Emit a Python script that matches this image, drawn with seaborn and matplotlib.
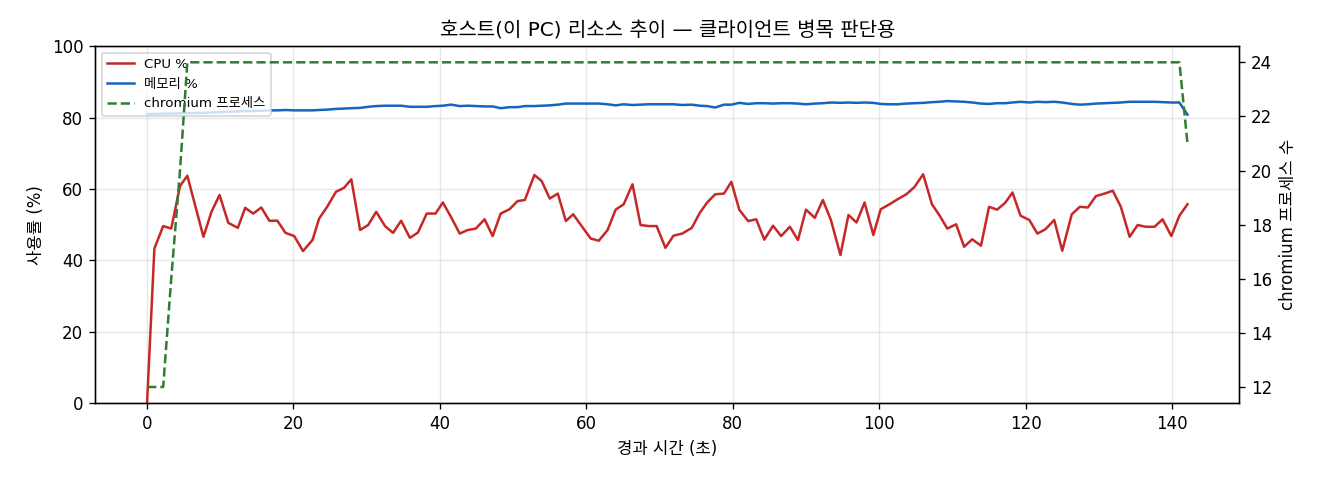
import matplotlib
matplotlib.use("Agg")
import matplotlib.pyplot as plt
import seaborn as sns
import pandas as pd

# elapsed time (s)
elapsed = [0.0, 1.0, 2.2, 3.3, 4.5, 5.5, 7.7, 8.8, 9.9, 11.1, 12.4, 13.4, 14.5, 15.6, 16.7, 17.8,
           18.9, 20.1, 21.3, 22.6, 23.5, 24.6, 25.8, 26.9, 27.9, 29.1, 30.2, 31.3, 32.5, 33.6, 34.7,
           35.9, 37.0, 38.2, 39.4, 40.4, 41.5, 42.7, 43.8, 44.9, 46.1, 47.2, 48.3, 49.5, 50.6, 51.6,
           52.9, 53.9, 55.0, 56.1, 57.2, 58.2, 59.5, 60.6, 61.7, 62.9, 64.0, 65.1, 66.3, 67.4, 68.5,
           69.6, 70.8, 71.9, 73.1, 74.4, 75.5, 76.5, 77.6, 78.8, 79.8, 80.9, 82.1, 83.2, 84.3, 85.5,
           86.6, 87.8, 88.9, 90.0, 91.2, 92.3, 93.4, 94.7, 95.8, 96.9, 98.0, 99.2, 100.2, 101.4,
           102.5, 103.7, 104.8, 106.0, 107.2, 108.2, 109.3, 110.5, 111.6, 112.7, 113.9, 115.0,
           116.1, 117.2, 118.2, 119.3, 120.5, 121.6, 122.7, 123.9, 125.0, 126.3, 127.4, 128.5,
           129.6, 130.8, 131.9, 133.0, 134.2, 135.3, 136.4, 137.6, 138.7, 139.9, 141.0, 142.1]

cpu = [0.0, 43.3, 49.6, 48.9, 60.8, 63.7, 46.6, 53.6, 58.3, 50.5, 49.1, 54.7, 53.1, 54.8, 51.1, 51.1,
       47.7, 46.8, 42.6, 45.7, 51.7, 55.0, 59.2, 60.3, 62.7, 48.5, 49.9, 53.6, 49.6, 47.7, 51.1,
       46.3, 47.8, 53.1, 53.1, 56.2, 52.2, 47.5, 48.5, 48.9, 51.5, 46.8, 53.1, 54.3, 56.6, 56.9,
       63.9, 62.2, 57.3, 58.7, 51.0, 52.9, 49.2, 46.1, 45.5, 48.5, 54.2, 55.7, 61.3, 49.9, 49.6,
       49.6, 43.5, 46.9, 47.5, 49.1, 53.3, 56.2, 58.5, 58.7, 62.0, 54.1, 51.0, 51.5, 45.8, 49.7,
       46.8, 49.4, 45.7, 54.2, 51.9, 56.9, 51.3, 41.5, 52.7, 50.6, 56.2, 47.1, 54.3, 55.7,
       57.1, 58.5, 60.5, 64.1, 55.7, 52.7, 48.9, 50.1, 43.8, 45.9, 44.1, 55.0,
       54.2, 56.1, 59.0, 52.5, 51.3, 47.5, 48.7, 51.3, 42.7, 52.9, 55.0, 54.8,
       58.0, 58.7, 59.5, 55.0, 46.6, 49.9, 49.4, 49.4, 51.5, 46.8, 52.5, 55.7]

memory = [81.0, 81.0, 81.1, 81.1, 81.2, 81.2, 81.3, 81.4, 81.5, 81.6, 81.7, 81.8, 81.8, 81.9, 82.0, 82.0,
          82.1, 82.0, 82.0, 82.0, 82.1, 82.2, 82.4, 82.5, 82.6, 82.7, 83.0, 83.2, 83.3, 83.3, 83.3,
          83.0, 83.0, 83.0, 83.2, 83.3, 83.6, 83.2, 83.3, 83.2, 83.1, 83.1, 82.6, 82.9, 82.9, 83.2,
          83.2, 83.3, 83.4, 83.6, 83.9, 83.9, 83.9, 83.9, 83.9, 83.7, 83.4, 83.7, 83.5, 83.6, 83.7,
          83.7, 83.7, 83.7, 83.5, 83.6, 83.3, 83.2, 82.8, 83.6, 83.6, 84.1, 83.8, 84.0, 84.0, 83.9,
          84.0, 84.0, 83.9, 83.7, 83.9, 84.0, 84.2, 84.1, 84.2, 84.1, 84.2, 84.1, 83.8, 83.7,
          83.7, 83.9, 84.0, 84.1, 84.3, 84.4, 84.6, 84.5, 84.4, 84.2, 83.9, 83.8,
          84.0, 84.0, 84.2, 84.4, 84.2, 84.4, 84.3, 84.4, 84.2, 83.8, 83.6, 83.7,
          83.9, 84.0, 84.1, 84.2, 84.4, 84.4, 84.4, 84.4, 84.3, 84.2, 84.2, 80.8]

chromium = [12, 12, 12, 16, 20] + [24] * 120 + [21]

df = pd.DataFrame({"t": elapsed, "cpu": cpu, "mem": memory, "proc": chromium})

plt.rcParams['font.family'] = ['DejaVu Sans', 'Noto Sans CJK KR']
plt.rcParams['axes.unicode_minus'] = False

fig, ax = plt.subplots(figsize=(11, 4), dpi=120)
fig.subplots_adjust(left=0.072, right=0.939, top=0.904, bottom=0.160)

sns.lineplot(data=df, x="t", y="cpu", ax=ax, color="#c62828", linewidth=1.5, label="CPU %")
sns.lineplot(data=df, x="t", y="mem", ax=ax, color="#1565c0", linewidth=1.5, label="메모리 %")
ax.set_ylim(0, 100)
ax.set_xlabel("경과 시간 (초)", fontsize=10)
ax.set_ylabel("사용률 (%)", fontsize=10)
ax.grid(True, alpha=0.3)
ax.tick_params(labelsize=10)

ax2 = ax.twinx()
sns.lineplot(data=df, x="t", y="proc", ax=ax2, color="#2e7d32", linewidth=1.5,
             linestyle="--", label="chromium 프로세스")
ax2.set_ylabel("chromium 프로세스 수", fontsize=10)
ax2.tick_params(labelsize=10)
if ax2.get_legend() is not None:
    ax2.get_legend().remove()

h1, l1 = ax.get_legend_handles_labels()
h2, l2 = ax2.get_legend_handles_labels()
ax.legend(h1 + h2, l1 + l2, loc="upper left", fontsize=8)

ax.set_title("호스트(이 PC) 리소스 추이 — 클라이언트 병목 판단용", fontsize=12)

fig.savefig("out.png", dpi=120)
